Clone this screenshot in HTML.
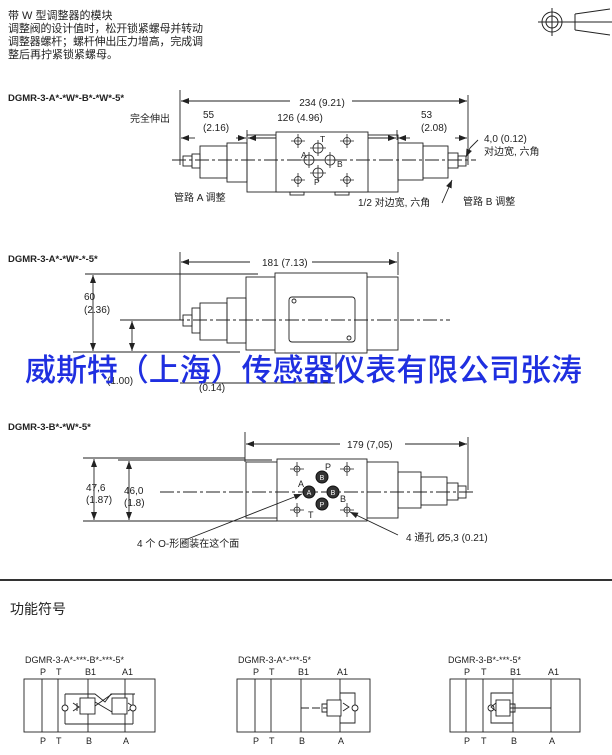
<!DOCTYPE html>
<html><head><meta charset="utf-8"><style>
html,body{margin:0;padding:0;background:#fff;}
svg{display:block;}
text{font-family:"Liberation Sans","Noto Sans CJK SC",sans-serif;fill:#222;}
</style></head><body>
<svg width="612" height="755" viewBox="0 0 612 755" xmlns="http://www.w3.org/2000/svg">
<defs>
<marker id="ar" markerWidth="8" markerHeight="6" refX="8" refY="3" orient="auto-start-reverse" markerUnits="userSpaceOnUse"><path d="M0,0 L8,3 L0,6z" fill="#222"/></marker>
</defs>
<g font-size="11">
<text x="8" y="19">带 W 型调整器的模块</text>
<text x="8" y="32" textLength="195">调整阀的设计值时，松开锁紧螺母并转动</text>
<text x="8" y="45" textLength="195">调整器螺杆；螺杆伸出压力增高，完成调</text>
<text x="8" y="58">整后再拧紧锁紧螺母。</text>
</g>
<g stroke="#222" fill="none" stroke-width="1">
<circle cx="552" cy="22" r="10"/><circle cx="552" cy="22" r="6"/>
<line x1="538" y1="22" x2="612" y2="22"/><line x1="552" y1="8" x2="552" y2="36"/>
<path d="M575,14 L610,9 M575,30 L610,35 M575,14 L575,30"/>
</g>

<text x="8" y="101" font-size="9.5" font-weight="bold">DGMR-3-A*-*W*-B*-*W*-5*</text>
<g stroke="#222" fill="none" stroke-width="0.9">
<line x1="180" y1="90" x2="180" y2="165"/><line x1="468" y1="95" x2="468" y2="165"/>
<line x1="247" y1="130" x2="247" y2="140"/><line x1="397" y1="130" x2="397" y2="140"/>
<line x1="181" y1="101" x2="290" y2="101" marker-start="url(#ar)"/><line x1="352" y1="101" x2="467" y2="101" marker-end="url(#ar)"/>
<line x1="181" y1="138" x2="195" y2="138" marker-start="url(#ar)"/><line x1="236" y1="138" x2="246" y2="138" marker-end="url(#ar)"/>
<line x1="248" y1="138" x2="290" y2="138" marker-start="url(#ar)"/><line x1="350" y1="138" x2="396" y2="138" marker-end="url(#ar)"/>
<line x1="398" y1="138" x2="410" y2="138" marker-start="url(#ar)"/><line x1="455" y1="138" x2="467" y2="138" marker-end="url(#ar)"/>
<rect x="247" y="135" width="151" height="57"/>
<rect x="276" y="132" width="92" height="60" fill="#fff"/>
<rect x="290" y="192" width="14" height="3"/><rect x="335" y="192" width="14" height="3"/>
<rect x="227" y="143" width="20" height="39"/><rect x="200" y="146" width="27" height="32"/>
<rect x="192" y="154" width="8" height="14"/><rect x="183" y="156" width="9" height="10"/>
<rect x="398" y="143" width="25" height="37"/><rect x="423" y="146" width="25" height="32"/>
<rect x="448" y="153" width="10" height="15"/><rect x="458" y="156" width="8" height="10"/>
<line x1="172" y1="160" x2="476" y2="160" stroke-dasharray="14,3,3,3"/>
<line x1="470" y1="148" x2="466" y2="157" marker-end="url(#ar)"/><line x1="478" y1="140" x2="470" y2="148"/>
<line x1="442" y1="203" x2="452" y2="180" marker-end="url(#ar)"/>
</g>
<g stroke="#222" fill="none" stroke-width="0.8">
<circle cx="298" cy="141" r="3.5"/><path d="M291,141h14M298,134v14"/>
<circle cx="347" cy="141" r="3.5"/><path d="M340,141h14M347,134v14"/>
<circle cx="318" cy="148" r="5"/><path d="M310,148h16M318,140v16"/>
<circle cx="309" cy="160" r="5"/><path d="M301,160h16M309,152v16"/>
<circle cx="330" cy="160" r="5"/><path d="M322,160h16M330,152v16"/>
<circle cx="318" cy="173" r="5"/><path d="M310,173h16M318,165v16"/>
<circle cx="298" cy="180" r="3.5"/><path d="M291,180h14M298,173v14"/>
<circle cx="347" cy="180" r="3.5"/><path d="M340,180h14M347,173v14"/>
</g>
<g font-size="8.5">
<text x="320" y="142">T</text><text x="301" y="158">A</text><text x="337" y="167">B</text><text x="314" y="185">P</text>
</g>
<g font-size="10">
<text x="300" y="121" text-anchor="middle">126 (4.96)</text>
<text x="322" y="106" text-anchor="middle">234 (9.21)</text>
<text x="203" y="118">55</text><text x="203" y="131">(2.16)</text>
<text x="421" y="118">53</text><text x="421" y="131">(2.08)</text>
<text x="130" y="122">完全伸出</text>
<text x="484" y="142">4,0 (0.12)</text><text x="484" y="155">对边宽, 六角</text>
<text x="174" y="201">管路 A 调整</text>
<text x="358" y="206">1/2 对边宽, 六角</text>
<text x="463" y="205">管路 B 调整</text>
</g>

<text x="8" y="262" font-size="9.5" font-weight="bold">DGMR-3-A*-*W*-*-5*</text>
<g stroke="#222" fill="none" stroke-width="0.9">
<line x1="180" y1="252" x2="180" y2="320"/><line x1="398" y1="252" x2="398" y2="275"/>
<line x1="181" y1="262" x2="250" y2="262" marker-start="url(#ar)"/><line x1="312" y1="262" x2="397" y2="262" marker-end="url(#ar)"/>
<line x1="85" y1="274" x2="258" y2="274"/>
<line x1="73" y1="352" x2="240" y2="352"/>
<line x1="93" y1="275" x2="93" y2="351" marker-start="url(#ar)" marker-end="url(#ar)"/>
<line x1="132" y1="321" x2="132" y2="351" marker-start="url(#ar)" marker-end="url(#ar)"/>
<line x1="120" y1="320" x2="170" y2="320"/>
<rect x="246" y="277" width="152" height="73"/>
<rect x="275" y="273" width="92" height="80" fill="#fff"/>
<rect x="289" y="297" width="66" height="45" rx="3"/>
<circle cx="294" cy="301" r="2"/><circle cx="349" cy="338" r="2"/>
<rect x="227" y="298" width="19" height="45"/><rect x="200" y="303" width="27" height="37"/>
<rect x="192" y="308" width="8" height="25"/><rect x="183" y="315" width="9" height="11"/>
<line x1="170" y1="320" x2="450" y2="320" stroke-dasharray="14,3,3,3"/>
<line x1="336" y1="353" x2="336" y2="372"/>
<line x1="180" y1="383" x2="335" y2="383"/>
</g>
<g font-size="10">
<text x="262" y="266">181 (7.13)</text>
<text x="84" y="300">60</text><text x="84" y="313">(2.36)</text>
<text x="107" y="384">(1.00)</text>
<text x="199" y="391">(0.14)</text>
</g>
<text x="25" y="381" font-size="31" textLength="557" lengthAdjust="spacingAndGlyphs" style="fill:#1f2fe0;font-family:'Noto Sans CJK SC','WenQuanYi Zen Hei',sans-serif;font-weight:500;">威斯特（上海）传感器仪表有限公司张涛</text>

<text x="8" y="430" font-size="9.5" font-weight="bold">DGMR-3-B*-*W*-5*</text>
<g stroke="#222" fill="none" stroke-width="0.9">
<line x1="245" y1="432" x2="245" y2="462"/><line x1="468" y1="437" x2="468" y2="490"/>
<line x1="246" y1="444" x2="340" y2="444" marker-start="url(#ar)"/><line x1="405" y1="444" x2="467" y2="444" marker-end="url(#ar)"/>
<line x1="83" y1="458" x2="245" y2="458"/><line x1="118" y1="460" x2="272" y2="460"/>
<line x1="83" y1="521" x2="277" y2="521"/>
<line x1="94" y1="459" x2="94" y2="520" marker-start="url(#ar)" marker-end="url(#ar)"/>
<line x1="129" y1="461" x2="129" y2="520" marker-start="url(#ar)" marker-end="url(#ar)"/>
<rect x="246" y="462" width="152" height="56"/>
<rect x="277" y="459" width="90" height="62" fill="#fff"/>
<rect x="398" y="472" width="23" height="36"/><rect x="421" y="477" width="26" height="28"/>
<rect x="447" y="483" width="11" height="17"/><rect x="458" y="486" width="8" height="12"/>
<line x1="160" y1="492" x2="475" y2="492" stroke-dasharray="14,3,3,3"/>
<line x1="185" y1="540" x2="302" y2="494" marker-end="url(#ar)"/>
<line x1="398" y1="535" x2="350" y2="512" marker-end="url(#ar)"/>
</g>
<g stroke="#222" stroke-width="0.8" fill="none">
<path d="M290,469h14M297,462v14M340,469h14M347,462v14M290,510h14M297,503v14M340,510h14M347,503v14"/>
<circle cx="347" cy="469" r="3"/><circle cx="347" cy="510" r="3"/><circle cx="297" cy="469" r="3"/><circle cx="297" cy="510" r="3"/>
</g>
<g fill="#333" stroke="#111">
<circle cx="322" cy="477" r="6"/><circle cx="309" cy="492" r="6"/><circle cx="333" cy="492" r="6"/><circle cx="322" cy="504" r="6"/>
</g>
<g font-size="7" text-anchor="middle"><text x="322" y="480" style="fill:#fff">B</text><text x="309" y="495" style="fill:#fff">A</text><text x="333" y="495" style="fill:#fff">B</text><text x="322" y="507" style="fill:#fff">P</text></g>
<g font-size="9"><text x="325" y="470">P</text><text x="298" y="487">A</text><text x="340" y="502">B</text><text x="308" y="518">T</text></g>
<g font-size="10">
<text x="347" y="448">179 (7,05)</text>
<text x="86" y="491">47,6</text><text x="86" y="503">(1.87)</text>
<text x="124" y="494">46,0</text><text x="124" y="506">(1.8)</text>
<text x="137" y="547">4 个 O-形圈装在这个面</text>
<text x="406" y="541">4 通孔 Ø5,3 (0.21)</text>
</g>

<rect x="0" y="579" width="612" height="2" fill="#333"/>
<text x="10" y="614" font-size="14">功能符号</text>

<g font-size="9">
<text x="25" y="663">DGMR-3-A*-***-B*-***-5*</text>
<text x="238" y="663">DGMR-3-A*-***-5*</text>
<text x="448" y="663">DGMR-3-B*-***-5*</text>
<text x="40" y="675">P</text><text x="56" y="675">T</text><text x="85" y="675">B1</text><text x="122" y="675">A1</text>
<text x="253" y="675">P</text><text x="269" y="675">T</text><text x="298" y="675">B1</text><text x="337" y="675">A1</text>
<text x="464" y="675">P</text><text x="481" y="675">T</text><text x="510" y="675">B1</text><text x="548" y="675">A1</text>
<text x="40" y="744">P</text><text x="56" y="744">T</text><text x="86" y="744">B</text><text x="123" y="744">A</text>
<text x="253" y="744">P</text><text x="269" y="744">T</text><text x="299" y="744">B</text><text x="338" y="744">A</text>
<text x="464" y="744">P</text><text x="481" y="744">T</text><text x="511" y="744">B</text><text x="549" y="744">A</text>
</g>
<g stroke="#222" fill="none" stroke-width="0.9">
<rect x="24" y="679" width="131" height="53"/>
<path d="M42,679v53M58,679v53M88,679v53M125,679v53"/>
<path d="M65,694h30l10,8l6,-8h24M65,724h60M65,694v30M133,694v30M118,724h15"/>
<rect x="80" y="698" width="15" height="16" fill="#fff"/><rect x="112" y="698" width="15" height="16" fill="#fff"/>
<path d="M95,706l17,-12M95,702l17,10"/>
<path d="M73,703l6,4l-6,4M77,703v8M128,703l6,4l-6,4"/>
<circle cx="65" cy="708" r="3" fill="#fff"/><circle cx="133" cy="708" r="3" fill="#fff"/>
<rect x="237" y="679" width="133" height="53"/>
<path d="M255,679v53M271,679v53M301,679v53M340,679v53"/>
<path d="M301,708h26" stroke-dasharray="8,3"/><path d="M340,693h15v30h-15"/>
<rect x="327" y="700" width="14" height="16" fill="#fff"/><circle cx="355" cy="708" r="3" fill="#fff"/>
<path d="M343,703l6,4l-6,4M322,704h5v8h-5z"/>
<rect x="450" y="679" width="130" height="53"/>
<path d="M466,679v53M483,679v53M513,679v53M551,679v53"/>
<path d="M510,708h41"/><path d="M513,693h-22v30h22"/>
<rect x="496" y="700" width="14" height="16" fill="#fff"/><circle cx="491" cy="708" r="3" fill="#fff"/>
<path d="M496,703l-5,4l5,4M510,704h5v8h-5z"/>
</g>
</svg>
</body></html>
